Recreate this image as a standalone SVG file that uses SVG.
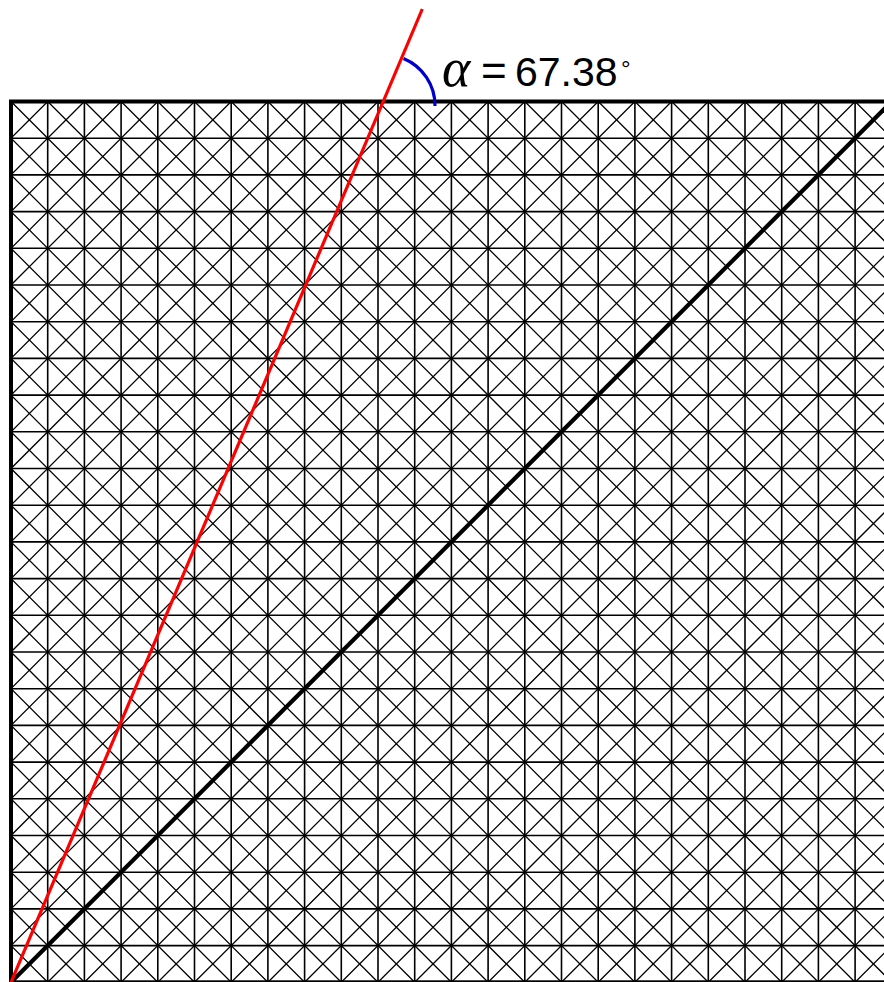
<svg xmlns="http://www.w3.org/2000/svg" width="884" height="982" viewBox="0 0 884 982">
<style>
.grid{fill:none;stroke:#000;stroke-width:1.6}
.diag{fill:none;stroke:#000;stroke-width:1.25}
.border{fill:none;stroke:#000;stroke-width:4}
.main{stroke:#000;stroke-width:4.2;stroke-linecap:butt}
.red{stroke:#ff0000;stroke-width:3.2}
.arc{fill:none;stroke:#0000cc;stroke-width:3.2}
.lbl{font-family:"Liberation Sans",Arial,sans-serif;fill:#000}
</style>
<defs>
<clipPath id="sq"><rect x="11" y="101.5" width="880.8" height="880.8"/></clipPath>
</defs>
<rect width="884" height="982" fill="#fff"/>
<g id="grid">
<path class="grid" d="M11,101.5h880.8m-880.8,36.7h880.8m-880.8,36.7h880.8m-880.8,36.7h880.8m-880.8,36.7h880.8m-880.8,36.7h880.8m-880.8,36.7h880.8m-880.8,36.7h880.8m-880.8,36.7h880.8m-880.8,36.7h880.8m-880.8,36.7h880.8m-880.8,36.7h880.8m-880.8,36.7h880.8m-880.8,36.7h880.8m-880.8,36.7h880.8m-880.8,36.7h880.8m-880.8,36.7h880.8m-880.8,36.7h880.8m-880.8,36.7h880.8m-880.8,36.7h880.8m-880.8,36.7h880.8m-880.8,36.7h880.8m-880.8,36.7h880.8m-880.8,36.7h880.8m-880.8,36.7h880.8"/>
<path class="grid" d="M11,101.5v880.8m36.7,-880.8v880.8m36.7,-880.8v880.8m36.7,-880.8v880.8m36.7,-880.8v880.8m36.7,-880.8v880.8m36.7,-880.8v880.8m36.7,-880.8v880.8m36.7,-880.8v880.8m36.7,-880.8v880.8m36.7,-880.8v880.8m36.7,-880.8v880.8m36.7,-880.8v880.8m36.7,-880.8v880.8m36.7,-880.8v880.8m36.7,-880.8v880.8m36.7,-880.8v880.8m36.7,-880.8v880.8m36.7,-880.8v880.8m36.7,-880.8v880.8m36.7,-880.8v880.8m36.7,-880.8v880.8m36.7,-880.8v880.8m36.7,-880.8v880.8m36.7,-880.8v880.8"/>
<g clip-path="url(#sq)">
<path class="diag" d="M-833.1,101.5l880.8,880.8m-844.1,-880.8l880.8,880.8m-844.1,-880.8l880.8,880.8m-844.1,-880.8l880.8,880.8m-844.1,-880.8l880.8,880.8m-844.1,-880.8l880.8,880.8m-844.1,-880.8l880.8,880.8m-844.1,-880.8l880.8,880.8m-844.1,-880.8l880.8,880.8m-844.1,-880.8l880.8,880.8m-844.1,-880.8l880.8,880.8m-844.1,-880.8l880.8,880.8m-844.1,-880.8l880.8,880.8m-844.1,-880.8l880.8,880.8m-844.1,-880.8l880.8,880.8m-844.1,-880.8l880.8,880.8m-844.1,-880.8l880.8,880.8m-844.1,-880.8l880.8,880.8m-844.1,-880.8l880.8,880.8m-844.1,-880.8l880.8,880.8m-844.1,-880.8l880.8,880.8m-844.1,-880.8l880.8,880.8m-844.1,-880.8l880.8,880.8m-844.1,-880.8l880.8,880.8m-844.1,-880.8l880.8,880.8m-844.1,-880.8l880.8,880.8m-844.1,-880.8l880.8,880.8m-844.1,-880.8l880.8,880.8m-844.1,-880.8l880.8,880.8m-844.1,-880.8l880.8,880.8m-844.1,-880.8l880.8,880.8m-844.1,-880.8l880.8,880.8m-844.1,-880.8l880.8,880.8m-844.1,-880.8l880.8,880.8m-844.1,-880.8l880.8,880.8m-844.1,-880.8l880.8,880.8m-844.1,-880.8l880.8,880.8m-844.1,-880.8l880.8,880.8m-844.1,-880.8l880.8,880.8m-844.1,-880.8l880.8,880.8m-844.1,-880.8l880.8,880.8m-844.1,-880.8l880.8,880.8m-844.1,-880.8l880.8,880.8m-844.1,-880.8l880.8,880.8m-844.1,-880.8l880.8,880.8m-844.1,-880.8l880.8,880.8m-844.1,-880.8l880.8,880.8"/>
<path class="diag" d="M-833.1,982.3l880.8,-880.8m-844.1,880.8l880.8,-880.8m-844.1,880.8l880.8,-880.8m-844.1,880.8l880.8,-880.8m-844.1,880.8l880.8,-880.8m-844.1,880.8l880.8,-880.8m-844.1,880.8l880.8,-880.8m-844.1,880.8l880.8,-880.8m-844.1,880.8l880.8,-880.8m-844.1,880.8l880.8,-880.8m-844.1,880.8l880.8,-880.8m-844.1,880.8l880.8,-880.8m-844.1,880.8l880.8,-880.8m-844.1,880.8l880.8,-880.8m-844.1,880.8l880.8,-880.8m-844.1,880.8l880.8,-880.8m-844.1,880.8l880.8,-880.8m-844.1,880.8l880.8,-880.8m-844.1,880.8l880.8,-880.8m-844.1,880.8l880.8,-880.8m-844.1,880.8l880.8,-880.8m-844.1,880.8l880.8,-880.8m-844.1,880.8l880.8,-880.8m-844.1,880.8l880.8,-880.8m-844.1,880.8l880.8,-880.8m-844.1,880.8l880.8,-880.8m-844.1,880.8l880.8,-880.8m-844.1,880.8l880.8,-880.8m-844.1,880.8l880.8,-880.8m-844.1,880.8l880.8,-880.8m-844.1,880.8l880.8,-880.8m-844.1,880.8l880.8,-880.8m-844.1,880.8l880.8,-880.8m-844.1,880.8l880.8,-880.8m-844.1,880.8l880.8,-880.8m-844.1,880.8l880.8,-880.8m-844.1,880.8l880.8,-880.8m-844.1,880.8l880.8,-880.8m-844.1,880.8l880.8,-880.8m-844.1,880.8l880.8,-880.8m-844.1,880.8l880.8,-880.8m-844.1,880.8l880.8,-880.8m-844.1,880.8l880.8,-880.8m-844.1,880.8l880.8,-880.8m-844.1,880.8l880.8,-880.8m-844.1,880.8l880.8,-880.8m-844.1,880.8l880.8,-880.8"/>
</g>
<rect class="border" x="11" y="101.5" width="880.8" height="880.8"/>
</g>
<g id="lines">
<line class="main" x1="11" y1="982.3" x2="891.8" y2="101.5"/>
<line class="red" x1="11" y1="982.3" x2="422.3" y2="9"/>
<path class="arc" d="M403.5,58.5A51,51 0 0 1 435,106"/>
</g>
<g id="label">
<text x="442" y="86" font-family="Liberation Serif,serif" font-style="italic" font-size="54">α</text>
<text class="lbl" x="481" y="86" font-size="44">=</text>
<text class="lbl" x="515" y="86" font-size="41">67.38</text>
<text class="lbl" x="621" y="77" font-size="24">°</text>
</g>
</svg>
